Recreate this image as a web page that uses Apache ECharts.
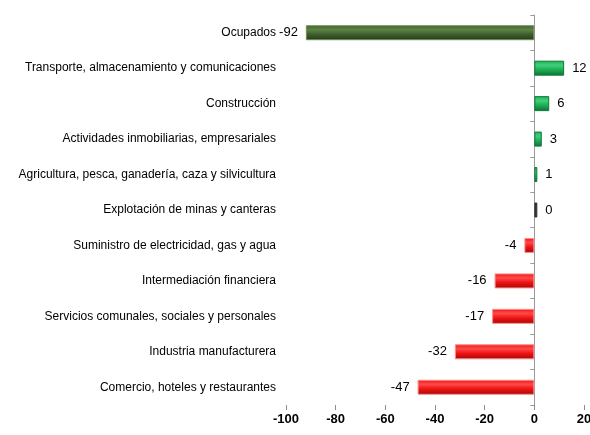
<!DOCTYPE html>
<html>
<head>
<meta charset="utf-8">
<script src="https://cdn.jsdelivr.net/npm/echarts@6/dist/echarts.min.js"></script>
<style>
  html, body { margin: 0; padding: 0; background: #fff; }
  #chart { width: 590px; height: 435px; }
</style>
</head>
<body>
<div id="chart"></div>
<script>
  // categorias (de arriba hacia abajo)
  var categorias = [
    'Ocupados',
    'Transporte, almacenamiento y comunicaciones',
    'Construcción',
    'Actividades inmobiliarias, empresariales',
    'Agricultura, pesca, ganadería, caza y silvicultura',
    'Explotación de minas y canteras',
    'Suministro de electricidad, gas y agua',
    'Intermediación financiera',
    'Servicios comunales, sociales y personales',
    'Industria manufacturera',
    'Comercio, hoteles y restaurantes'
  ]
  var valores = [-92, 12, 6, 3, 1, 0, -4, -16, -17, -32, -47]
  var ticksX = [-100, -80, -60, -40, -20, 0, 20]

  var fuente = "'Liberation Sans', Arial, sans-serif"

  function grad(claro, medio, oscuro) {
    return new echarts.graphic.LinearGradient(0, 0, 0, 1, [
      { offset: 0, color: medio },
      { offset: 0.3, color: claro },
      { offset: 0.6, color: medio },
      { offset: 1, color: oscuro }
    ])
  }

  function colorDe(i, v) {
    if (i === 0) return grad('#5f8446', '#3f5f2c', '#24381a')
    if (v === 0) return '#333333'
    if (v > 0) return grad('#3fd07a', '#1fae55', '#0e6e33')
    return grad('#ff4a4a', '#f01414', '#a00808')
  }

  function bordeDe(i, v) {
    if (i === 0) return '#6f8f5a'
    if (v === 0) return '#333333'
    if (v > 0) return '#0f7a3a'
    return '#ff8a8a'
  }

  var datos = valores.map(function (v, i) {
    return {
      value: v,
      itemStyle: { color: colorDe(i, v), borderColor: bordeDe(i, v), borderWidth: 1 },
      label: { position: v < 0 ? 'left' : 'right' }
    }
  })

  var myChart = echarts.init(document.getElementById('chart'))
  myChart.setOption({
    animation: false,
    grid: { left: 286, right: 6, top: 15, bottom: 30, containLabel: false, outerBoundsMode: 'none' },
    xAxis: {
      type: 'value',
      min: ticksX[0],
      max: ticksX[ticksX.length - 1],
      interval: 20,
      axisLine: { onZero: false, lineStyle: { color: '#8c8c8c', width: 1 } },
      axisTick: { show: true, length: 5, lineStyle: { color: '#8c8c8c' } },
      axisLabel: {
        color: '#000',
        fontWeight: 'bold',
        fontSize: 13,
        fontFamily: fuente,
        margin: 8
      },
      splitLine: { show: false }
    },
    yAxis: [
      {
        type: 'category',
        data: categorias,
        inverse: true,
        position: 'left',
        axisLine: { show: false, onZero: false },
        axisTick: { show: false },
        axisLabel: { color: '#000', fontSize: 12, fontFamily: fuente, margin: 10 }
      },
      {
        type: 'category',
        data: categorias,
        inverse: true,
        position: 'right',
        axisLine: { show: true, onZero: true, lineStyle: { color: '#9a9a9a' } },
        axisTick: { show: true, inside: true, length: 4, lineStyle: { color: '#9a9a9a' } },
        axisLabel: { show: false }
      }
    ],
    series: [
      {
        type: 'bar',
        yAxisIndex: 0,
        data: datos,
        barWidth: 15,
        barMinHeight: 3,
        label: {
          show: true,
          distance: 8,
          color: '#000',
          fontSize: 13,
          fontFamily: fuente
        }
      }
    ]
  })
</script>
</body>
</html>
